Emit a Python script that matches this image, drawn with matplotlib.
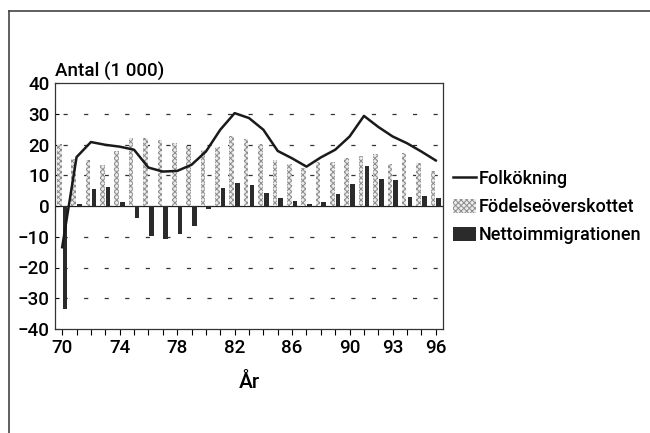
import numpy as np
import matplotlib
matplotlib.use('Agg')
import matplotlib.pyplot as plt
from matplotlib.lines import Line2D

plt.rcParams['font.family'] = ['Roboto', 'DejaVu Sans']
plt.rcParams['font.weight'] = 'medium'
plt.rcParams['lines.scale_dashes'] = False
plt.rcParams['hatch.linewidth'] = 0.7

# data (1 000 persons)
years = np.arange(70, 97)
folkokning = [-13.4, 15.9, 20.8, 19.9, 19.3, 18.3, 12.5, 11.2, 11.4, 13.4, 17.7, 24.8, 30.2,
              28.6, 24.8, 17.9, 15.5, 12.8, 15.8, 18.3, 22.6, 29.3, 25.7, 22.6, 20.4, 17.7, 14.8]
fodelse = [20.2, 15.2, 15.0, 13.2, 18.0, 22.0, 22.0, 21.5, 20.4, 19.6, 18.3, 19.1, 22.8,
           21.7, 20.2, 14.8, 13.6, 12.2, 14.3, 14.3, 15.5, 16.1, 17.0, 13.7, 17.2, 13.9, 11.5]
netto = [-33.5, 0.5, 5.5, 6.3, 1.2, -3.9, -9.9, -10.6, -9.0, -6.4, -0.9, 5.8, 7.4,
         6.8, 4.3, 2.7, 1.6, 0.6, 1.2, 3.8, 7.1, 13.0, 8.7, 8.5, 2.8, 3.3, 2.7]
tick_labels = {70: '70', 74: '74', 78: '78', 82: '82', 86: '86', 90: '90', 93: '93', 96: '96'}

fig = plt.figure(figsize=(6.5, 4.33), dpi=100)
ax = fig.add_axes([55/650, 1-329/433, 388/650, 246/433])

# dashed grid
for g in [-30, -20, -10, 10, 20, 30]:
    ax.axhline(g, color='#333333', lw=0.9, linestyle=(9, (3.0, 11.8)), zorder=0)
ax.axhline(0, color='#222222', lw=0.9, zorder=1)

ax.bar(years - 0.2, fodelse, width=0.32, facecolor='#ececec', edgecolor='#8c8c8c',
       hatch='xxxxxx', linewidth=0, label='Födelseöverskottet', zorder=2)
ax.bar(years + 0.2, netto, width=0.32, color='#2b2b2b', label='Nettoimmigrationen', zorder=2)
ax.plot(years, folkokning, color='#1a1a1a', lw=1.8, label='Folkökning', zorder=3)

ax.set_xlim(69.5, 96.5)
ax.set_ylim(-40, 40)
ax.set_yticks(range(-40, 41, 10))
ax.set_xticks(years)
ax.set_xticklabels([tick_labels.get(y, '') for y in years])
ax.tick_params(axis='y', direction='in', length=3, width=0.8, labelsize=13.5, pad=4)
ax.tick_params(axis='x', direction='out', length=4, width=0.8, labelsize=13.5, pad=3)
for s in ax.spines.values():
    s.set_linewidth(0.9)
    s.set_color('#333333')

fig.text(55/650, 1-77/433, 'Antal (1 000)', fontsize=13.5, ha='left', va='baseline')
fig.text(249/650, 1-382/433, 'År', fontsize=15, ha='center', va='center')

handles, labels = ax.get_legend_handles_labels()
order = [labels.index('Folkökning'), labels.index('Födelseöverskottet'), labels.index('Nettoimmigrationen')]
ax.legend([handles[i] for i in order], [labels[i] for i in order],
          loc='center left', bbox_to_anchor=(453/650, 1-207/433), bbox_transform=fig.transFigure,
          frameon=False, fontsize=13, handlelength=1.25, handleheight=0.8,
          handletextpad=0.2, labelspacing=0.55, borderaxespad=0, borderpad=0)

# outer frame (left and top edges)
fig.add_artist(Line2D([9/650, 9/650], [0, 1-11/433], color='#444444', lw=1.2))
fig.add_artist(Line2D([9/650, 1], [1-11/433, 1-11/433], color='#444444', lw=1.2))

fig.savefig('out.png', dpi=100)
